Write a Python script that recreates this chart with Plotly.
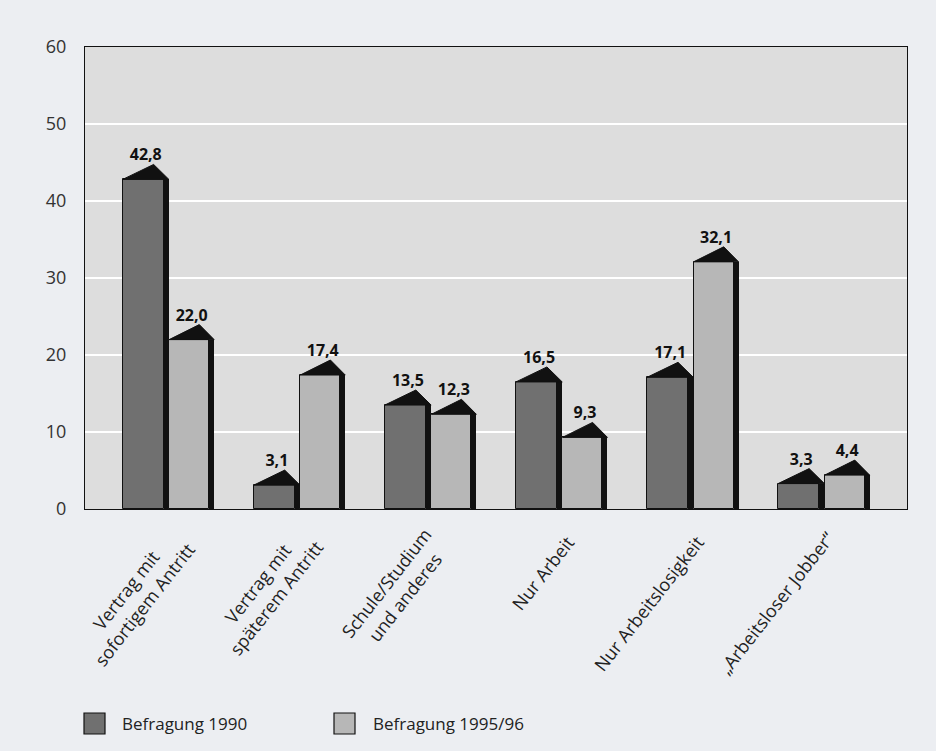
import plotly.graph_objects as go

# Survey outcome categories (x axis)
categories = [
    "Vertrag mit<br>sofortigem Antritt",
    "Vertrag mit<br>späterem Antritt",
    "Schule/Studium<br>und anderes",
    "Nur Arbeit",
    "Nur Arbeitslosigkeit",
    "„Arbeitsloser Jobber“",
]

# Percentages per survey wave
befragung_1990 = [42.8, 3.1, 13.5, 16.5, 17.1, 3.3]
befragung_1995 = [22.0, 17.4, 12.3, 9.3, 32.1, 4.4]

series_names = ["Befragung 1990", "Befragung 1995/96"]
y_ticks = [0, 10, 20, 30, 40, 50, 60]

# ---- styling -------------------------------------------------------------
FONT = "Open Sans"
PAGE_BG = "#eceef2"
PLOT_BG = "#dddddd"
DARK = "#707070"
LIGHT = "#b7b7b7"
INK = "#111111"

W, H = 936, 751
M_L, M_R, M_T, M_B = 85, 29, 47, 242
X_RANGE = [-0.637, 5.633]
Y_RANGE = [0, 60]

# bar geometry (category units): front face + dark side strip
FRONT_W = [0.315, 0.305]
FRONT_OFF = [-0.35, 0.005]
SIDE_W = 0.038
ROOF_H = 1.95          # roof height in value units
ROOF_PEAK = 0.67       # peak position across front+side width

xs = list(range(len(categories)))
fig = go.Figure()

roof_x, roof_y = [], []
lab_x, lab_y, lab_t = [], [], []

for k, (vals, color) in enumerate([(befragung_1990, DARK), (befragung_1995, LIGHT)]):
    # front face
    fig.add_trace(go.Bar(
        x=xs, y=vals, width=FRONT_W[k], offset=FRONT_OFF[k],
        marker=dict(color=color, line=dict(color=INK, width=1)),
        showlegend=False, hoverinfo="skip",
    ))
    # shaded side strip
    fig.add_trace(go.Bar(
        x=xs, y=vals, width=SIDE_W, offset=FRONT_OFF[k] + FRONT_W[k],
        marker=dict(color=INK, line=dict(width=0)),
        showlegend=False, hoverinfo="skip",
    ))
    for i, v in enumerate(vals):
        xl = i + FRONT_OFF[k]
        xr = xl + FRONT_W[k] + SIDE_W
        xp = xl + ROOF_PEAK * (xr - xl)
        roof_x += [xl, xp, xr, xl, None]
        roof_y += [v, v + ROOF_H, v, v, None]
        lab_x.append((xl + xr) / 2)
        lab_y.append(v + ROOF_H)
        lab_t.append(f"{v:.1f}".replace(".", ","))

# roofs on top of each bar
fig.add_trace(go.Scatter(
    x=roof_x, y=roof_y, mode="lines", fill="toself",
    fillcolor=INK, line=dict(color=INK, width=1),
    showlegend=False, hoverinfo="skip",
))
# value labels
fig.add_trace(go.Scatter(
    x=lab_x, y=lab_y, mode="text", text=lab_t,
    textposition="top center",
    textfont=dict(family=FONT, size=16, color=INK, weight="bold"),
    showlegend=False, hoverinfo="skip",
))

plot_w = W - M_L - M_R
plot_h = H - M_T - M_B


def px_x(p):
    return (p - M_L) / plot_w


def px_y(p):
    return (H - M_B - p) / plot_h


annotations = []
# rotated category labels below the axis, placed by their centres
label_dx = [-34, -33, -36, -19, -44, -48]
label_dy = [88, 81, 81, 64, 94, 94]
for i, c in enumerate(categories):
    annotations.append(dict(
        x=i, xref="x", y=0, yref="paper",
        text=c, showarrow=False, textangle=-52,
        xanchor="center", yanchor="middle", align="center",
        xshift=label_dx[i], yshift=-label_dy[i],
        font=dict(family=FONT, size=18, color="#222222"),
    ))

# legend: swatches and captions
shapes = []
legend_items = [(84, 120, DARK), (334, 371, LIGHT)]
for (sx, tx, col), name in zip(legend_items, series_names):
    shapes.append(dict(
        type="rect", xref="paper", yref="paper",
        x0=px_x(sx), x1=px_x(sx + 21), y0=px_y(734), y1=px_y(713),
        fillcolor=col, line=dict(color=INK, width=1.2),
    ))
    annotations.append(dict(
        x=px_x(tx), xref="paper", y=px_y(723), yref="paper",
        text=name, showarrow=False, xanchor="left", yanchor="middle",
        font=dict(family=FONT, size=17, color="#222222"),
    ))

fig.update_layout(
    width=W, height=H,
    margin=dict(l=M_L, r=M_R, t=M_T, b=M_B, pad=0),
    paper_bgcolor=PAGE_BG, plot_bgcolor=PLOT_BG,
    barmode="overlay", bargap=0,
    font=dict(family=FONT, size=18, color="#222222"),
    annotations=annotations, shapes=shapes,
    showlegend=False,
)
fig.update_xaxes(
    range=X_RANGE, showticklabels=False, showgrid=False, zeroline=False,
    showline=True, linecolor=INK, linewidth=1.2, mirror=True, ticks="",
)
fig.update_yaxes(
    range=Y_RANGE, tickvals=y_ticks, ticktext=[str(t) for t in y_ticks],
    showgrid=True, gridcolor="#ffffff", gridwidth=2, zeroline=False,
    showline=True, linecolor=INK, linewidth=1.2, mirror=True, ticks="",
    ticklabelstandoff=14,
    tickfont=dict(family=FONT, size=18, color="#333333"),
)

fig.write_html("out.html")
